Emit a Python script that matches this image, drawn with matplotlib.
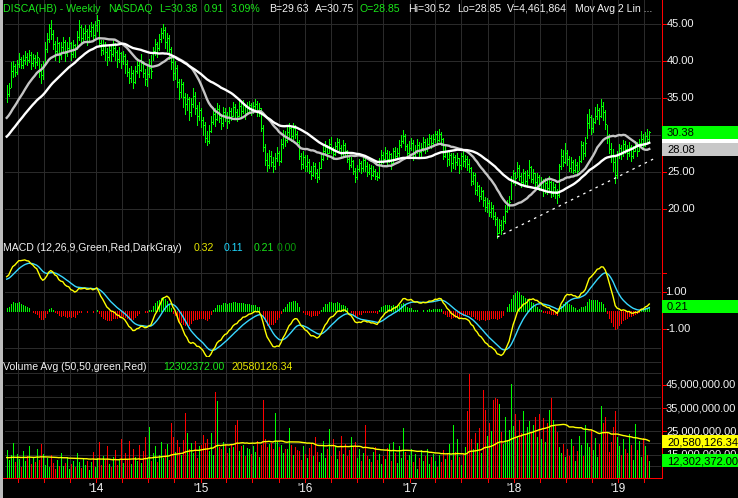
import numpy as np
import pandas as pd
import matplotlib
matplotlib.use("Agg")
import matplotlib.pyplot as plt
import matplotlib.dates as mdates
from matplotlib.lines import Line2D
from matplotlib.patches import Rectangle

# ---------------- weekly DISCA data ----------------
# closes of the year before the first bar (feed the moving averages / MACD)
prior_close = [
    22.4, 22.9, 23.3, 23.1, 23.8, 24.2, 24.0, 24.6, 25.1, 24.7,
    24.2, 24.9, 25.2, 24.9, 24.5, 25.2, 25.7, 25.4, 26.0, 26.5,
    26.9, 26.4, 27.1, 27.7, 27.4, 28.0, 28.6, 28.2, 28.9, 29.4,
    29.0, 29.7, 29.2, 29.9, 30.5, 30.0, 30.6, 31.1, 30.8, 31.3,
    31.7, 31.2, 31.6, 32.0, 32.7, 33.2, 33.6, 33.1, 33.8, 34.4,
    34.8, 34.4,
]

close = [
    35.6, 36.3, 38.7, 39.3, 38.5, 39.6, 40.3, 39.5, 40.1, 40.6,
    40.2, 40.8, 39.7, 40.4, 39.9, 40.5, 38.6, 38.1, 39.2, 41.6,
    43.0, 44.4, 43.7, 42.3, 41.3, 42.4, 40.8, 41.9, 42.6, 41.1,
    41.8, 42.4, 41.0, 42.1, 41.6, 43.3, 44.6, 43.1, 43.8, 44.0,
    43.2, 44.1, 44.6, 43.5, 44.9, 45.5, 42.4, 41.5, 42.0, 41.2,
    40.6, 41.5, 40.9, 41.8, 41.2, 40.3, 41.1, 40.0, 40.7, 39.6,
    38.5, 37.7, 38.4, 37.2, 38.6, 39.5, 38.8, 39.7, 38.4, 37.6,
    38.3, 39.1, 38.6, 41.4, 42.3, 41.7, 43.0, 43.8, 44.2, 42.6,
    43.1, 41.6, 39.8, 38.4, 39.1, 37.2, 35.8, 36.9, 35.1, 34.2,
    34.8, 33.1, 34.2, 35.3, 33.7, 32.5, 33.4, 32.0, 31.3, 29.6,
    29.2, 30.6, 31.8, 32.9, 32.1, 33.5, 32.3, 31.6, 33.1, 32.7,
    31.9, 33.2, 32.5, 33.8, 33.1, 32.6, 33.9, 33.3, 34.1, 33.0,
    33.6, 34.0, 33.4, 33.9, 34.2, 33.2, 33.6, 31.0, 28.4, 26.6,
    26.0, 27.2, 26.4, 25.8, 26.9, 27.5, 26.5, 28.8, 29.9, 29.3,
    30.4, 30.9, 29.8, 31.0, 30.2, 29.1, 27.2, 26.1, 27.0, 25.8,
    26.4, 25.2, 24.6, 25.8, 24.9, 24.3, 25.6, 26.8, 27.9, 28.4,
    27.6, 28.8, 28.1, 27.4, 28.5, 29.0, 28.2, 27.5, 28.6, 27.9,
    26.8, 25.9, 26.5, 25.1, 24.3, 25.4, 26.2, 25.5, 26.6, 25.8,
    25.0, 25.6, 24.6, 25.2, 24.5, 24.3, 26.5, 27.3, 26.8, 27.6,
    26.8, 27.4, 26.2, 27.9, 27.1, 27.6, 28.7, 29.2, 29.8, 28.5,
    27.6, 28.3, 28.9, 27.4, 27.9, 28.6, 27.7, 28.2, 29.0, 28.3,
    28.8, 29.6, 28.9, 29.4, 30.1, 29.3, 30.2, 29.5, 27.2, 27.8,
    26.7, 27.3, 26.2, 27.0, 26.4, 26.9, 26.0, 27.1, 26.5, 26.8,
    26.1, 25.5, 23.8, 24.6, 22.5, 23.1, 21.8, 22.4, 21.2, 20.3,
    20.8, 19.6, 20.2, 19.1, 18.6, 16.8, 17.9, 17.2, 18.4, 19.7,
    20.6, 21.0, 23.9, 24.8, 24.2, 25.6, 24.5, 23.7, 24.9, 23.8,
    24.6, 25.7, 24.1, 24.9, 23.6, 24.3, 23.2, 23.8, 22.6, 23.5,
    22.9, 23.6, 22.2, 23.0, 22.4, 21.9, 25.8, 27.2, 26.3, 27.6,
    26.8, 25.6, 26.3, 25.3, 26.0, 25.2, 26.5, 28.6, 27.5, 28.9,
    31.6, 32.4, 30.9, 31.8, 32.5, 33.4, 32.6, 33.9, 33.1, 31.5,
    29.6, 28.1, 27.2, 26.4, 24.6, 27.3, 28.2, 27.6, 28.8, 28.1,
    27.5, 28.4, 27.1, 27.9, 28.6, 27.8, 28.9, 29.5, 28.7, 29.8, 29.47, 30.38,
]

high = [
    36.8, 37.0, 39.9, 40.0, 39.6, 40.2, 41.1, 40.6, 40.8, 41.3,
    41.1, 41.5, 41.2, 41.0, 40.8, 41.2, 40.4, 39.6, 40.0, 42.5,
    43.8, 45.0, 45.6, 44.2, 42.7, 43.2, 42.6, 42.5, 43.2, 42.8,
    42.5, 43.2, 42.6, 42.8, 42.3, 44.0, 45.5, 44.9, 44.5, 44.8,
    44.3, 44.8, 45.3, 45.0, 45.4, 46.2, 45.6, 42.9, 42.8, 42.5,
    41.7, 42.3, 42.2, 42.8, 42.4, 41.5, 41.9, 41.2, 41.3, 40.9,
    40.2, 39.0, 39.3, 38.8, 39.3, 40.4, 40.1, 41.0, 40.0, 38.9,
    39.4, 40.3, 40.8, 41.9, 43.0, 42.6, 43.6, 44.5, 45.0, 44.6,
    43.8, 43.5, 41.9, 40.4, 40.0, 39.5, 37.6, 37.6, 37.2, 35.7,
    35.6, 35.2, 35.0, 36.4, 35.8, 34.0, 34.5, 33.6, 32.4, 31.8,
    30.5, 31.3, 32.5, 33.6, 33.7, 34.3, 34.0, 32.8, 33.8, 33.6,
    33.1, 33.8, 33.6, 34.4, 34.2, 33.5, 34.6, 34.3, 34.7, 34.2,
    34.4, 34.6, 34.3, 34.5, 34.9, 34.6, 34.3, 33.7, 31.3, 28.8,
    27.6, 28.0, 27.8, 27.0, 27.6, 28.4, 27.9, 29.4, 30.7, 30.6,
    31.3, 31.6, 31.2, 31.6, 31.4, 30.5, 29.3, 27.6, 27.8, 27.3,
    27.3, 26.8, 25.8, 26.4, 26.2, 25.4, 26.3, 27.5, 28.7, 29.2,
    28.6, 29.5, 29.7, 28.4, 29.0, 29.6, 29.4, 28.6, 29.3, 28.9,
    28.0, 27.1, 27.0, 26.6, 25.5, 25.9, 26.8, 26.5, 27.0, 26.9,
    26.3, 26.1, 25.9, 25.8, 25.4, 25.0, 26.9, 28.0, 27.7, 28.4,
    28.0, 27.9, 27.5, 28.3, 28.4, 28.2, 29.3, 30.0, 30.7, 30.2,
    28.8, 29.2, 29.6, 29.3, 28.6, 29.4, 29.1, 28.9, 29.7, 29.5,
    29.6, 30.2, 30.0, 30.1, 30.6, 30.5, 30.8, 30.4, 29.6, 28.6,
    27.9, 28.0, 27.5, 27.6, 27.3, 27.6, 26.9, 27.5, 27.8, 27.3,
    27.2, 26.8, 25.7, 25.0, 24.8, 23.7, 23.3, 23.0, 22.6, 21.6,
    21.5, 21.2, 21.0, 20.6, 19.6, 18.9, 18.6, 18.5, 19.1, 20.5,
    21.2, 21.7, 24.4, 25.3, 25.0, 26.4, 26.0, 24.8, 25.4, 25.1,
    25.3, 26.6, 25.8, 25.4, 24.9, 24.8, 24.6, 24.3, 24.0, 24.2,
    24.0, 24.5, 23.8, 23.6, 23.4, 22.7, 26.1, 28.1, 28.0, 28.9,
    28.0, 27.2, 27.0, 26.6, 26.8, 26.4, 27.1, 29.2, 29.0, 29.7,
    32.8, 33.5, 32.7, 32.3, 33.8, 34.2, 33.6, 34.9, 34.5, 33.4,
    31.4, 30.2, 28.9, 28.1, 27.2, 27.9, 28.8, 28.6, 29.3, 29.2,
    28.7, 29.0, 28.6, 28.5, 29.2, 29.0, 29.4, 30.6, 30.2, 30.4, 30.8, 30.52,
]

low = [
    34.5, 35.3, 36.5, 37.9, 38.0, 38.3, 39.2, 39.0, 39.1, 39.6,
    39.4, 39.8, 38.9, 39.3, 39.0, 39.5, 37.8, 37.0, 37.5, 39.5,
    41.2, 42.6, 43.0, 41.6, 40.2, 40.9, 39.8, 40.3, 41.3, 40.0,
    40.7, 41.3, 40.1, 40.6, 40.5, 41.6, 42.9, 42.5, 42.6, 43.0,
    42.1, 42.8, 43.4, 42.7, 43.2, 44.1, 42.0, 40.8, 40.9, 40.1,
    39.5, 40.2, 40.0, 40.7, 40.1, 39.2, 39.9, 39.0, 39.6, 38.4,
    38.0, 37.0, 37.2, 36.4, 37.0, 38.4, 37.9, 38.6, 37.8, 36.7,
    36.6, 37.9, 37.7, 40.1, 40.8, 40.6, 41.5, 42.6, 43.1, 41.8,
    41.4, 40.3, 38.9, 37.4, 37.6, 36.5, 34.9, 35.2, 33.8, 32.8,
    33.4, 32.0, 32.6, 33.8, 32.9, 31.4, 32.0, 31.1, 30.0, 29.1,
    28.6, 28.9, 30.4, 31.5, 31.2, 32.0, 31.8, 30.8, 31.2, 31.9,
    31.0, 31.6, 32.0, 32.6, 32.4, 31.9, 32.5, 32.6, 33.0, 32.2,
    32.8, 33.1, 32.7, 33.0, 33.2, 32.6, 32.5, 30.6, 27.9, 25.9,
    25.2, 25.6, 25.8, 25.0, 25.4, 26.5, 25.9, 26.3, 28.3, 28.5,
    29.1, 29.7, 29.2, 29.4, 29.6, 28.6, 26.8, 25.4, 25.6, 25.1,
    25.1, 24.8, 24.0, 24.4, 24.2, 23.6, 24.1, 25.5, 26.6, 27.4,
    26.8, 27.5, 27.6, 26.8, 27.3, 28.1, 27.7, 26.9, 27.2, 27.0,
    26.4, 25.4, 25.7, 24.7, 23.6, 24.0, 25.1, 24.8, 25.2, 25.2,
    24.5, 24.7, 24.1, 24.4, 24.0, 23.9, 24.2, 26.1, 26.2, 26.7,
    25.9, 26.4, 25.4, 26.1, 26.6, 26.8, 27.2, 28.4, 28.9, 28.0,
    27.0, 27.2, 28.0, 26.6, 26.9, 27.6, 27.0, 27.1, 27.9, 27.5,
    27.9, 28.6, 28.2, 28.5, 29.1, 28.9, 29.2, 28.6, 26.7, 27.0,
    25.8, 26.0, 25.1, 25.6, 25.4, 25.9, 24.9, 25.4, 25.8, 25.7,
    25.3, 25.0, 23.2, 23.4, 22.0, 21.9, 21.1, 21.4, 20.4, 19.7,
    19.6, 19.0, 18.9, 18.7, 17.9, 16.1, 16.7, 16.6, 17.3, 18.1,
    19.6, 20.0, 21.4, 23.5, 23.2, 24.3, 23.9, 23.0, 23.4, 23.2,
    23.0, 24.2, 23.6, 23.5, 22.8, 23.1, 22.5, 22.6, 21.8, 22.2,
    22.0, 22.5, 21.6, 21.8, 21.5, 20.8, 21.6, 25.4, 25.8, 26.2,
    25.9, 25.1, 25.0, 24.9, 25.0, 24.9, 25.3, 26.3, 26.8, 27.2,
    29.6, 30.9, 30.1, 30.4, 31.6, 32.2, 31.5, 32.4, 32.0, 30.8,
    28.9, 27.5, 26.3, 25.1, 23.5, 24.2, 26.9, 26.8, 27.2, 27.5,
    26.7, 27.2, 26.5, 26.9, 27.8, 27.2, 27.8, 28.6, 28.1, 28.5, 29.1, 28.85,
]

# weekly volume, millions of shares
prior_volume_m = [
    13.2, 15.8, 11.4, 14.6, 12.9, 16.7, 10.8, 13.5, 15.1, 12.3,
    14.8, 11.7, 13.9, 16.2, 12.6, 10.9, 14.3, 13.1, 15.5, 12.0,
    13.7, 11.5, 16.0, 14.1, 12.8, 13.4, 15.2, 11.9, 14.5, 12.7,
    13.6, 16.4, 12.2, 14.0, 11.3, 15.7, 13.0, 12.5, 14.9, 13.3,
    11.8, 15.4, 12.4, 14.2, 13.8, 16.1, 12.1, 14.7, 13.5, 15.0,
]

volume_m = [
    17.0, 12.5, 14.8, 20.2, 11.6, 15.3, 13.1, 9.8, 16.4, 12.2,
    14.6, 18.7, 10.9, 13.5, 11.8, 17.6, 12.7, 19.4, 15.2, 10.6,
    13.4, 9.6, 14.9, 11.3, 8.8, 12.6, 10.2, 15.7, 9.9, 11.4,
    13.9, 8.7, 10.8, 12.4, 9.5, 15.8, 11.6, 9.2, 13.2, 10.4,
    12.1, 8.4, 11.7, 16.3, 9.8, 13.6, 20.4, 10.7, 14.2, 12.5,
    18.6, 11.1, 9.7, 13.8, 16.9, 10.4, 12.9, 21.8, 11.5, 15.6,
    13.2, 20.9, 10.8, 17.4, 14.1, 12.3, 19.2, 11.2, 16.5, 22.6,
    13.7, 27.1, 12.4, 15.9, 18.8, 11.6, 14.7, 20.3, 13.5, 17.2,
    19.6, 12.8, 28.5, 22.4, 16.1, 21.4, 18.3, 14.9, 21.2, 33.0,
    24.1, 17.6, 19.8, 15.8, 20.7, 13.4, 18.9, 19.2, 23.5, 19.8,
    21.7, 16.4, 24.3, 14.9, 41.8, 37.9, 18.4, 17.3, 20.5, 19.6,
    15.8, 17.9, 19.6, 18.2, 27.7, 29.8, 16.6, 18.8, 19.3, 14.2,
    17.8, 17.4, 15.4, 18.7, 16.2, 20.8, 13.9, 19.1, 38.6, 21.6,
    18.3, 19.4, 19.9, 17.6, 33.1, 20.5, 18.2, 19.2, 15.7, 17.5,
    17.4, 26.3, 19.1, 14.8, 18.4, 16.9, 16.7, 12.7, 18.5, 15.1,
    13.6, 17.9, 19.8, 14.2, 22.4, 16.3, 11.8, 15.6, 20.7, 13.4,
    17.2, 26.0, 14.5, 21.9, 18.6, 12.9, 16.4, 23.1, 15.2, 19.7,
    14.3, 16.8, 22.5, 18.4, 20.6, 13.7, 17.5, 12.1, 15.9, 27.7,
    14.6, 13.2, 11.9, 16.2, 18.3, 12.7, 15.4, 10.8, 14.2, 13.1,
    17.8, 19.6, 12.3, 20.4, 15.6, 11.4, 18.9, 13.7, 26.3, 16.1,
    12.8, 14.9, 17.2, 11.6, 15.3, 8.9, 13.4, 16.8, 12.1, 14.5,
    17.6, 10.9, 13.8, 15.2, 12.4, 9.6, 14.7, 11.8, 16.9, 13.3,
    15.8, 19.5, 12.6, 27.7, 16.2, 21.9, 13.9, 10.7, 15.4, 18.1,
    33.6, 49.6, 21.8, 17.4, 24.2, 19.8, 26.5, 15.6, 42.7, 34.2,
    22.8, 28.5, 25.1, 38.4, 39.2, 38.9, 36.8, 24.6, 19.7, 31.4,
    21.2, 25.8, 45.4, 27.5, 32.5, 22.9, 29.7, 24.1, 33.8, 23.5,
    26.8, 29.4, 24.4, 27.9, 31.2, 22.6, 32.5, 21.7, 30.9, 20.3,
    28.6, 34.1, 39.3, 30.1, 27.4, 24.8, 18.2, 15.7, 19.6, 13.9,
    17.4, 14.3, 21.8, 18.6, 12.2, 16.7, 22.9, 19.3, 14.5, 27.8,
    20.1, 18.4, 25.7, 16.9, 22.3, 13.8, 19.5, 35.8, 28.6, 31.2,
    24.3, 16.2, 20.4, 27.1, 33.9, 22.4, 18.7, 14.9, 21.6, 17.3,
    15.8, 23.9, 19.2, 12.6, 28.4, 16.8, 20.7, 14.1, 22.3, 18.6, 14.7, 12.302372,
]

first_week = "2013-02-22"
trend_points = [("2017-11-03", 16.2), ("2019-05-16", 27.0)]

price_ticks = [45, 40, 35, 25, 20]
macd_ticks = [1.0, -1.0]
volume_ticks_m = [45, 35, 25, 15]
year_labels = ["'14", "'15", "'16", "'17", "'18", "'19"]

last_close = 30.38
fast_ma_last = 28.08
macd_hist_last = 0.21
volume_last_m = 12.302372
volume_avg_last_m = 20.58012634

assert len(close) == len(high) == len(low) == len(volume_m)

# ---------------- indicators ----------------
n_prior = len(prior_close)
all_close = pd.Series(prior_close + close, dtype=float)
ma_fast = all_close.rolling(20).mean().to_numpy()[n_prior:]
ma_slow = all_close.rolling(40).mean().to_numpy()[n_prior:]
ema12 = all_close.ewm(span=12, adjust=False).mean()
ema26 = all_close.ewm(span=26, adjust=False).mean()
macd_all = ema12 - ema26
signal_all = macd_all.ewm(span=9, adjust=False).mean()
macd = macd_all.to_numpy()[n_prior:]
signal = signal_all.to_numpy()[n_prior:]
hist = macd - signal

all_vol = pd.Series(prior_volume_m + volume_m, dtype=float)
vol_avg = all_vol.rolling(50).mean().to_numpy()[len(prior_volume_m):]

c = np.array(close)
prev = np.r_[prior_close[-1], c[:-1]]
up = c >= prev

dates = pd.date_range(first_week, periods=len(close), freq="W-FRI")
xd = mdates.date2num(dates.to_pydatetime())

# ---------------- figure layout ----------------
W, H = 738, 498
FONT = "Liberation Sans"
GRID = "#2a2a2a"
GREEN = "#00ff00"
RED = "#ff0000"
TXT = "#f2f2f2"
PX = 0.72  # one pixel in points at 100 dpi

x_left = mdates.date2num(pd.Timestamp("2013-02-16").to_pydatetime())
x_right = mdates.date2num(pd.Timestamp("2019-05-30").to_pydatetime())

fig = plt.figure(figsize=(W / 100, H / 100), dpi=100, facecolor="black")


def panel(top, bottom, ylim):
    ax = fig.add_axes([5 / W, 1 - bottom / H, 656 / W, (bottom - top) / H])
    ax.set_facecolor("black")
    for s in ax.spines.values():
        s.set_visible(False)
    ax.set_xticks([])
    ax.set_yticks([])
    ax.set_xlim(x_left, x_right)
    ax.set_ylim(*ylim)
    return ax


ax_p = panel(0, 242, (15.54, 48.24))
ax_m = panel(242, 357, (-2.473, 3.644))
ax_v = panel(357, 478, (4.91, 57.07))

quarters = pd.date_range("2013-04-01", "2019-04-01", freq="QS")
qx = mdates.date2num(quarters.to_pydatetime())
years = pd.date_range("2014-01-01", "2019-01-01", freq="YS")
yx = mdates.date2num(years.to_pydatetime())

for ax, hvals in ((ax_p, [20, 25, 30, 35, 40, 45]),
                  (ax_m, [-2, -1, 1, 2]),
                  (ax_v, list(range(10, 60, 5)))):
    for q in qx:
        ax.axvline(q, color=GRID, lw=PX, snap=True, antialiased=False, zorder=0)
    for v in hvals:
        ax.axhline(v, color=GRID, lw=PX, snap=True, antialiased=False, zorder=0)


def bars(ax, x, y0, y1, colors):
    # crisp one-pixel bars
    ax.vlines(x, y0, y1, colors=colors, lw=PX, snap=True,
              antialiased=False, zorder=2)


# ---------------- price panel ----------------
bars(ax_p, xd, low, high, GREEN)
ax_p.hlines(close, xd, xd + 3.0, colors=GREEN, lw=PX, snap=True,
            antialiased=False, zorder=2)
ax_p.plot(xd, ma_fast, color="#c4c4c4", lw=1.7, zorder=3)
ax_p.plot(xd, ma_slow, color="#ffffff", lw=1.7, zorder=4)
tx = [mdates.date2num(pd.Timestamp(d).to_pydatetime()) for d, _ in trend_points]
ty = [v for _, v in trend_points]
ax_p.plot(tx, ty, color="white", lw=0.9, linestyle=(0, (2, 3.5)), zorder=5)

# ---------------- MACD panel ----------------
bars(ax_m, xd, 0, hist, np.where(hist >= 0, GREEN, RED))
ax_m.plot(xd, signal, color="#38d8ff", lw=1.0, zorder=3)
ax_m.plot(xd, macd, color="#ffff00", lw=1.0, zorder=4)

# ---------------- volume panel ----------------
bars(ax_v, xd, 0, volume_m, np.where(up, GREEN, RED))
ax_v.plot(xd, vol_avg, color="#ffff00", lw=1.0, zorder=3)


# ---------------- figure-level decorations (pixel coords, y from top) ----------------
def ypx(ax, v):
    return H - ax.transData.transform((x_left, v))[1]


def xpx(ax, xv):
    return ax.transData.transform((xv, 0))[0]


def fline(x0, y0, x1, y1, color, lw=PX, z=4):
    fig.add_artist(Line2D([x0 / W, x1 / W], [1 - y0 / H, 1 - y1 / H],
                          transform=fig.transFigure, color=color, lw=lw,
                          snap=True, antialiased=False, zorder=z))


def ftext(x, y, s, color, ha="left", size=8, z=3):
    fig.text(x / W, 1 - y / H, s, color=color, ha=ha, va="center",
             fontsize=size, family=FONT, zorder=z)


def fbox(yc, face, s=None, h=13):
    fig.add_artist(Rectangle((661.5 / W, 1 - (yc + h / 2) / H), 77 / W, h / H,
                             transform=fig.transFigure, facecolor=face,
                             edgecolor="none", zorder=5))
    if s is not None:
        ftext(667, yc + 0.5, s, "#000000", z=6)


# left window border
fig.add_artist(Rectangle((0, 0), 2.5 / W, 1, transform=fig.transFigure,
                         facecolor="#bdbdbd", edgecolor="none", zorder=6))
# right value axis and bottom time axis
fline(661.5, 0, 661.5, 478, RED, lw=PX)
fline(3, 477.5, 661.5, 477.5, RED, lw=PX)
for q in qx:
    xq = xpx(ax_v, q)
    fline(xq, 478, xq, 482, RED)
for xv, lab in zip(yx, year_labels):
    ftext(xpx(ax_v, xv), 489, lab, TXT, ha="center", size=8.5)

# right axis labels
for v in price_ticks + [30]:
    y = ypx(ax_p, v)
    fline(661.5, y, 666, y, RED)
for v in price_ticks:
    ftext(667, ypx(ax_p, v), f"{v:.2f}", TXT)
for v in [2.0, 1.0, 0.0, -1.0]:
    fline(661.5, ypx(ax_m, v), 666, ypx(ax_m, v), RED)
for v in macd_ticks:
    ftext(665, ypx(ax_m, v), f"{v:.2f}", TXT)
for v in volume_ticks_m:
    y = ypx(ax_v, v)
    fline(661.5, y, 666, y, RED)
    ftext(666, y, f"{v * 1e6:,.2f}", TXT)

# value boxes
fbox(ypx(ax_p, ma_slow[-1]), "#ffffff")
fbox(ypx(ax_p, last_close), "#00ff00", f"{last_close:.2f}")
fbox(ypx(ax_p, fast_ma_last), "#c8c8c8", f"{fast_ma_last:.2f}")
fbox(ypx(ax_m, macd_hist_last), "#00ff00", f"{macd_hist_last:.2f}")
fbox(ypx(ax_v, volume_avg_last_m), "#ffff00", f"{volume_avg_last_m * 1e6:,.2f}")
fbox(ypx(ax_v, volume_last_m), "#00ff00", f"{volume_last_m * 1e6:,.2f}")

# panel headers
TG = "#19e619"
HS = 7.6
for x, s, col in [(3, "DISCA(HB) - Weekly", TG), (108, "NASDAQ", TG),
                  (159, "L=30.38", TG), (204, "0.91", TG), (231, "3.09%", TG),
                  (269, "B=29.63", TXT), (315, "A=30.75", TXT),
                  (360, "O=28.85", TG), (408, "Hi=30.52", TXT),
                  (457, "Lo=28.85", TXT), (507, "V=4,461,864", TXT),
                  (575, "Mov Avg 2 Lin ...", TXT)]:
    ftext(x, 8.5, s, col, size=HS)
for x, s, col in [(3, "MACD (12,26,9,Green,Red,DarkGray)", TXT),
                  (194, "0.32", "#e6e600"), (224, "0.11", "#20d8ff"),
                  (254, "0.21", TG), (277, "0.00", "#0a9a0a")]:
    ftext(x, 248, s, col, size=HS)
for x, s, col in [(3, "Volume Avg (50,50,green,Red)", TXT),
                  (163, "12302372.00", TG), (232, "20580126.34", "#e6e600")]:
    ftext(x, 367.5, s, col, size=HS)

fig.savefig("out.png", dpi=100, facecolor="black")
